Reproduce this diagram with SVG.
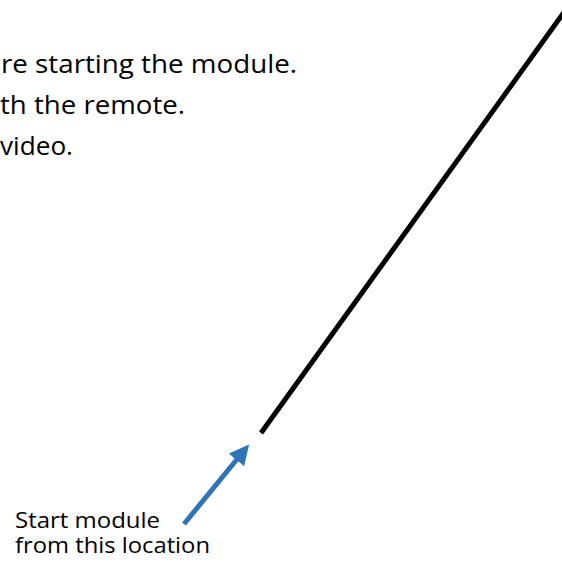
<svg xmlns="http://www.w3.org/2000/svg" width="562" height="564" viewBox="0 0 562 564">
  <defs>
    <style>
      .top { font-family: "Open Sans", Lato, "Liberation Sans", sans-serif; font-size: 25px; fill: #000; }
      .lbl { font-family: "Open Sans", Lato, "Liberation Sans", sans-serif; font-size: 21px; fill: #000; }
    </style>
    <marker id="ah" markerWidth="4" markerHeight="4" refX="0.5" refY="2" orient="auto" markerUnits="strokeWidth" viewBox="0 0 4 4">
      <path d="M0,0 L4,2 L0,4 z" fill="#2E75B6"/>
    </marker>
  </defs>
  <rect width="562" height="564" fill="#fff"/>
  <g id="instructions">
    <text class="top" x="1" y="73" textLength="296" lengthAdjust="spacingAndGlyphs">re starting the module.</text>
    <text class="top" x="0" y="114" textLength="185" lengthAdjust="spacingAndGlyphs">th the remote.</text>
    <text class="top" x="0" y="155" textLength="73" lengthAdjust="spacingAndGlyphs">video.</text>
  </g>
  <g id="start-label">
    <text class="lbl" x="15" y="528" textLength="145" lengthAdjust="spacingAndGlyphs">Start module</text>
    <text class="lbl" x="15" y="553" textLength="195" lengthAdjust="spacingAndGlyphs">from this location</text>
  </g>
  <g id="connectors">
    <line x1="261" y1="433" x2="575" y2="-3" stroke="#000" stroke-width="5"/>
    <line x1="184" y1="524" x2="238" y2="458" stroke="#2E75B6" stroke-width="5" marker-end="url(#ah)"/>
  </g>
</svg>
